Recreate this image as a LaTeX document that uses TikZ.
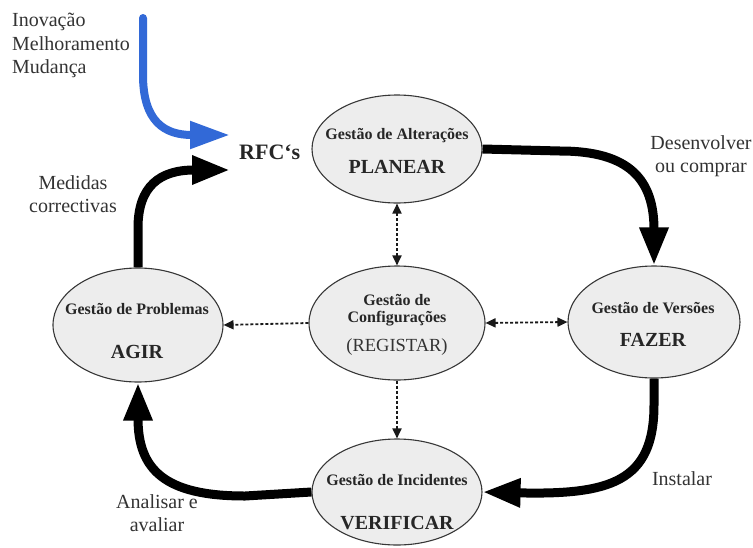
\documentclass[tikz,border=0pt]{standalone}
\usepackage{fontspec}
\setmainfont{Liberation Serif}
\usetikzlibrary{shapes.geometric,arrows.meta}
\definecolor{ovalfill}{RGB}{237,237,237}
\definecolor{ovaledge}{RGB}{55,55,55}
\definecolor{inflow}{RGB}{50,105,215}
\begin{document}
\begin{tikzpicture}[x=1pt,y=-1pt,
  oval/.style={ellipse,draw=ovaledge,line width=1.1pt,fill=ovalfill,inner sep=0pt},
  small/.style={font=\fontsize{16}{17}\selectfont\bfseries,inner sep=0pt,text=black!85},
  big/.style={font=\fontsize{20}{23}\selectfont\bfseries,inner sep=0pt,text=black!85},
  note/.style={font=\fontsize{20}{23.5}\selectfont,align=center,inner sep=0pt,text=black!80},
  flow/.style={line width=9pt,-{Triangle[length=38pt,width=27pt]}},
  link/.style={line width=1.8pt,dash pattern=on 3pt off 2pt,black!90,
    >={Triangle[length=10pt,width=9pt]}}
]
\useasboundingbox (0,0) rectangle (753,547);

% the five process ovals
\node[oval,minimum width=170pt,minimum height=108pt] (P) at (397,149) {};
\node[oval,minimum width=170pt,minimum height=114pt] (A) at (138,325) {};
\node[oval,minimum width=176pt,minimum height=114pt] (C) at (397,323) {};
\node[oval,minimum width=172pt,minimum height=112pt] (F) at (654,322) {};
\node[oval,minimum width=170pt,minimum height=106pt] (V) at (397,492) {};

% oval texts
\node[small] (Pa) at (397,136) {Gestão de Alterações};
\node[big]   (Pb) at (397,167) {PLANEAR};
\node[small] (Aa) at (137,309) {Gestão de Problemas};
\node[big]   (Ab) at (137,352) {AGIR};
\node[small,align=center,font=\fontsize{16}{17}\selectfont\bfseries] (Ca) at (397,310) {Gestão de\\Configurações};
\node[inner sep=0pt,font=\fontsize{18.5}{20}\selectfont,text=black!80] (Cb) at (397,347) {(REGISTAR)};
\node[small] (Fa) at (653,308) {Gestão de Versões};
\node[big]   (Fb) at (653,340) {FAZER};
\node[small] (Va) at (397,480) {Gestão de Incidentes};
\node[big]   (Vb) at (397,523) {VERIFICAR};

% request node and side labels
\node[font=\fontsize{22}{24}\selectfont\bfseries,inner sep=0pt,anchor=west,text=black!85] (rfc) at (239,152) {RFC`s};
\node[note,align=left,anchor=north west] (src) at (12,13) {Inovação\\Melhoramento\\Mudança};
\node[note] (med) at (73,194) {Medidas\\correctivas};
\node[note] (dev) at (701,156) {Desenvolver\\ou comprar};
\node[note] (ins) at (682,479) {Instalar};
\node[note] (ana) at (157,513) {Analisar e\\avaliar};

% free ends of the two arrows entering the RFC label
\coordinate (blueStart) at (143,18);
\coordinate (rfcA) at (230,135);
\coordinate (rfcB) at (230,170);

% incoming change requests
\draw[line width=8pt,inflow,line cap=round,-{Triangle[length=40pt,width=26pt,line cap=butt]}]
  (blueStart) -- (143,75) .. controls (143,122) and (165,135) .. (rfcA);

% main PDCA cycle
\draw[flow] (A.north) -- (138,228) .. controls (138,186) and (160,170) .. (rfcB);
\draw[flow] (P.east) -- (560,151) .. controls (630,151) and (654,180) .. (F.north);
\draw[flow] (F.south) -- (654,405) .. controls (654,482) and (610,495) .. (V.east);
\draw[flow] (V.west) -- (245,496) .. controls (165,496) and (138,470) .. (A.south);

% links to configuration management
\draw[link,<->] (P.south) -- (C.north);
\draw[link,->] (C.west) -- (A.east);
\draw[link,<->] (C.east) -- (F.west);
\draw[link,->] (C.south) -- (V.north);
\end{tikzpicture}
\end{document}
